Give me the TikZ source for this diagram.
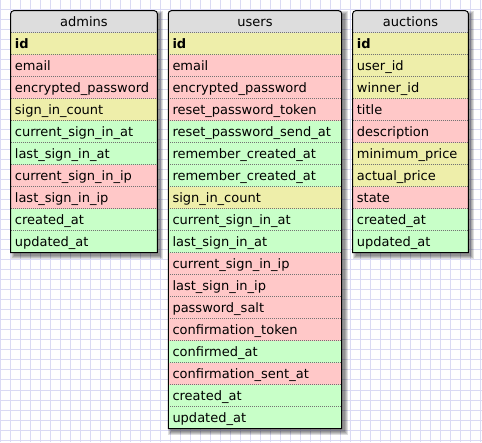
\documentclass[tikz,border=0pt]{standalone}
\usepackage{fontspec}
\setmainfont{DejaVu Sans}
\usepackage{xcolor}

\definecolor{headgray}{HTML}{DDDDDD}
\definecolor{yel}{HTML}{EEEEAA}
\definecolor{red}{HTML}{FFC8C8}
\definecolor{grn}{HTML}{C8FFC8}
\definecolor{gridblue}{HTML}{DADAF4}

\tikzset{
  field/.style={anchor=north west, inner xsep=4pt, inner ysep=0pt, minimum height=22pt,
    text height=10pt, text depth=0.8pt, align=left, font=\fontsize{13}{15}\selectfont},
  tabtitle/.style={inner sep=0pt, text height=10pt, text depth=0.8pt, font=\fontsize{13}{15}\selectfont},
  sepline/.style={draw=black!55, dash pattern=on 1pt off 1pt, line width=0.7pt},
  tabborder/.style={draw=black, line width=1pt},
  gridline/.style={draw=gridblue, line width=1pt}
}

% #1 name, #2 left, #3 width, #4 rows, #5 title, #6 fields
\newcommand{\dbtable}[6]{
  \pgfmathsetmacro{\tbot}{431.3-22*(#4+1)}
  \pgfmathsetmacro{\tright}{#2+#3}
  \pgfmathsetmacro{\twid}{#3-8}
  \foreach \s in {0,1,2,3}
    \fill[black, opacity=0.13] (#2+3-\s,\tbot-3-\s) rectangle (\tright+3+\s,431.3-3+\s);
  \fill[headgray] (#2,\tbot) -- (#2,428.3) arc[start angle=180, end angle=90, radius=3]
    -- (\tright-3,431.3) arc[start angle=90, end angle=0, radius=3] -- (\tright,\tbot) -- cycle;
  \node[tabtitle] (#1-head) at (#2+#3/2,420.3) {#5};
  \foreach \fname/\fcol [count=\i] in {#6}
    \node[field, fill=\fcol, minimum width=#3pt, text width=\twid pt] (#1-\i) at (#2,431.3-22*\i) {\fname};
  \foreach \i in {1,...,#4}
    \draw[sepline] (#1-\i.north west) -- (#1-\i.north east);
  \draw[tabborder] (#2,\tbot) -- (#2,428.3) arc[start angle=180, end angle=90, radius=3]
    -- (\tright-3,431.3) arc[start angle=90, end angle=0, radius=3] -- (\tright,\tbot) -- cycle;
}

\begin{document}
\begin{tikzpicture}[x=1pt, y=1pt]
  \useasboundingbox (0,0) rectangle (482,442);
  \fill[white] (0,0) rectangle (482,442);
  \foreach \g in {0,10,...,480}
    \draw[gridline] (\g,0) -- (\g,442);
  \foreach \g in {0,10,...,440}
    \draw[gridline] (0,442-\g) -- (482,442-\g);

  \dbtable{admins}{10.7}{146.6}{10}{admins}{\textbf{id}/yel, email/red, encrypted\_password/red,
    sign\_in\_count/yel, current\_sign\_in\_at/grn, last\_sign\_in\_at/grn,
    current\_sign\_in\_ip/red, last\_sign\_in\_ip/red, created\_at/grn, updated\_at/grn}

  \dbtable{users}{168.3}{173.4}{18}{users}{\textbf{id}/yel, email/red, encrypted\_password/red,
    reset\_password\_token/red, reset\_password\_send\_at/grn, remember\_created\_at/grn,
    remember\_created\_at/grn, sign\_in\_count/yel, current\_sign\_in\_at/grn,
    last\_sign\_in\_at/grn, current\_sign\_in\_ip/red, last\_sign\_in\_ip/red,
    password\_salt/red, confirmation\_token/red, confirmed\_at/grn,
    confirmation\_sent\_at/red, created\_at/grn, updated\_at/grn}

  \dbtable{auctions}{352.7}{115.6}{10}{auctions}{\textbf{id}/yel, user\_id/yel, winner\_id/yel,
    title/red, description/red, minimum\_price/yel, actual\_price/yel, state/red,
    created\_at/grn, updated\_at/grn}
\end{tikzpicture}
\end{document}
